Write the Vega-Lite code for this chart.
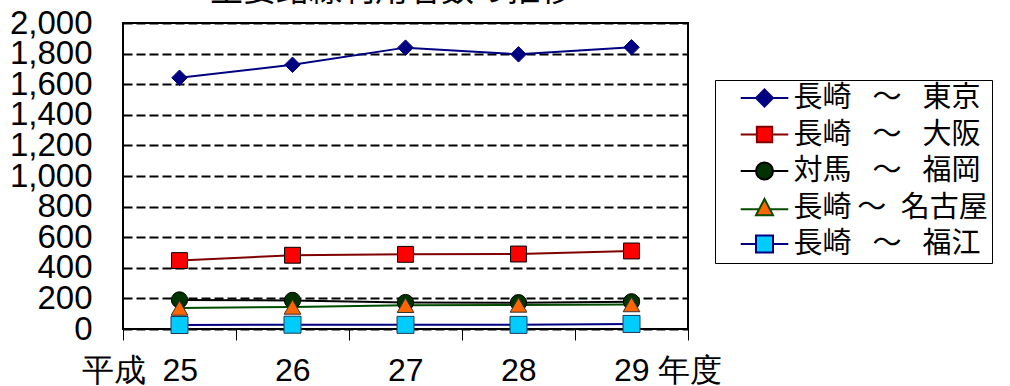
{
  "$schema": "https://vega.github.io/schema/vega-lite/v6.json",
  "width": 565,
  "height": 306,
  "autosize": {"type": "none"},
  "padding": {"left": 123, "top": 23, "right": 322, "bottom": 57},
  "background": "white",
  "data": {"values": [
    {"year": "25", "series": "長崎\u2002 ～\u2002 東京", "value": 1642},
    {"year": "26", "series": "長崎\u2002 ～\u2002 東京", "value": 1727},
    {"year": "27", "series": "長崎\u2002 ～\u2002 東京", "value": 1839},
    {"year": "28", "series": "長崎\u2002 ～\u2002 東京", "value": 1795},
    {"year": "29", "series": "長崎\u2002 ～\u2002 東京", "value": 1841},
    {"year": "25", "series": "長崎\u2002 ～\u2002 大阪", "value": 447},
    {"year": "26", "series": "長崎\u2002 ～\u2002 大阪", "value": 482},
    {"year": "27", "series": "長崎\u2002 ～\u2002 大阪", "value": 488},
    {"year": "28", "series": "長崎\u2002 ～\u2002 大阪", "value": 490},
    {"year": "29", "series": "長崎\u2002 ～\u2002 大阪", "value": 510},
    {"year": "25", "series": "対馬\u2002 ～\u2002 福岡", "value": 190},
    {"year": "26", "series": "対馬\u2002 ～\u2002 福岡", "value": 187},
    {"year": "27", "series": "対馬\u2002 ～\u2002 福岡", "value": 173},
    {"year": "28", "series": "対馬\u2002 ～\u2002 福岡", "value": 172},
    {"year": "29", "series": "対馬\u2002 ～\u2002 福岡", "value": 178},
    {"year": "25", "series": "長崎\u2009～\u2002名古屋", "value": 137},
    {"year": "26", "series": "長崎\u2009～\u2002名古屋", "value": 144},
    {"year": "27", "series": "長崎\u2009～\u2002名古屋", "value": 155},
    {"year": "28", "series": "長崎\u2009～\u2002名古屋", "value": 157},
    {"year": "29", "series": "長崎\u2009～\u2002名古屋", "value": 160},
    {"year": "25", "series": "長崎\u2002 ～\u2002 福江", "value": 26},
    {"year": "26", "series": "長崎\u2002 ～\u2002 福江", "value": 28},
    {"year": "27", "series": "長崎\u2002 ～\u2002 福江", "value": 27},
    {"year": "28", "series": "長崎\u2002 ～\u2002 福江", "value": 27},
    {"year": "29", "series": "長崎\u2002 ～\u2002 福江", "value": 33}
  ]},
  "encoding": {
    "x": {
      "field": "year", "type": "ordinal", "sort": ["25", "26", "27", "28", "29"],
      "scale": {"type": "band", "paddingInner": 0, "paddingOuter": 0},
      "axis": {
        "title": null, "domain": false, "grid": false, "ticks": true, "tickBand": "extent",
        "tickSize": 11, "tickColor": "black", "tickWidth": 1,
        "labelAngle": 0, "labelFont": "Liberation Sans", "labelFontSize": 32, "labelColor": "black",
        "labelPadding": 15, "labelBaseline": "top", "labelOverlap": false,
        "labelExpr": "datum.value == '25' ? '平成\u200225' : datum.value == '29' ? '29 年度' : datum.label",
        "labelAlign": {"condition": {"test": "datum.value == '25'", "value": "right"}, "value": "left"},
        "labelOffset": {"condition": {"test": "datum.value == '25'", "value": 18}, "value": -18}
      }
    },
    "y": {
      "field": "value", "type": "quantitative",
      "scale": {"domain": [0, 2000], "nice": false},
      "axis": {
        "title": null, "domain": false, "ticks": false,
        "values": [0, 200, 400, 600, 800, 1000, 1200, 1400, 1600, 1800, 2000],
        "format": ",d", "labelFont": "Liberation Sans", "labelFontSize": 33, "labelColor": "black",
        "labelPadding": 31, "labelBaseline": "middle", "labelOverlap": false, "labelBound": false, "labelFlush": false,
        "grid": true, "gridColor": "black", "gridDash": [9, 4], "gridWidth": 2, "gridOpacity": 1
      }
    }
  },
  "layer": [
    {
      "mark": {"type": "line", "strokeWidth": 2},
      "encoding": {
        "stroke": {"field": "series", "type": "nominal",
          "scale": {"domain": ["長崎\u2002 ～\u2002 東京", "長崎\u2002 ～\u2002 大阪", "対馬\u2002 ～\u2002 福岡", "長崎\u2009～\u2002名古屋", "長崎\u2002 ～\u2002 福江"],
                    "range": ["#000080", "#800000", "#000000", "#004d00", "#000080"]},
          "legend": null}
      }
    },
    {
      "mark": {"type": "point", "filled": true, "opacity": 1, "strokeWidth": 1},
      "encoding": {
        "x": {"field": "year", "type": "ordinal", "sort": ["25", "26", "27", "28", "29"], "axis": null},
        "shape": {"field": "series", "type": "nominal",
          "scale": {"domain": ["長崎\u2002 ～\u2002 東京", "長崎\u2002 ～\u2002 大阪", "対馬\u2002 ～\u2002 福岡", "長崎\u2009～\u2002名古屋", "長崎\u2002 ～\u2002 福江"],
                    "range": ["diamond", "square", "circle", "triangle-up", "square"]},
          "legend": null},
        "fill": {"field": "series", "type": "nominal",
          "scale": {"domain": ["長崎\u2002 ～\u2002 東京", "長崎\u2002 ～\u2002 大阪", "対馬\u2002 ～\u2002 福岡", "長崎\u2009～\u2002名古屋", "長崎\u2002 ～\u2002 福江"],
                    "range": ["#000080", "#FF0000", "#003300", "#FF6600", "#00CCFF"]},
          "legend": null},
        "stroke": {"field": "series", "type": "nominal",
          "scale": {"domain": ["長崎\u2002 ～\u2002 東京", "長崎\u2002 ～\u2002 大阪", "対馬\u2002 ～\u2002 福岡", "長崎\u2009～\u2002名古屋", "長崎\u2002 ～\u2002 福江"],
                    "range": ["#000080", "#000000", "#000000", "#333333", "#1a3a5a"]},
          "legend": null},
        "size": {"field": "series", "type": "ordinal",
          "scale": {"domain": ["長崎\u2002 ～\u2002 東京", "長崎\u2002 ～\u2002 大阪", "対馬\u2002 ～\u2002 福岡", "長崎\u2009～\u2002名古屋", "長崎\u2002 ～\u2002 福江"],
                    "range": [240, 289, 289, 256, 361]},
          "legend": null}
      }
    },
    {
      "transform": [{"filter": "datum.value < 0"}],
      "mark": {"type": "point", "filled": true, "opacity": 1, "strokeWidth": 2, "size": 289},
      "encoding": {
        "x": {"field": "year", "type": "ordinal", "sort": ["25", "26", "27", "28", "29"],
          "axis": {"orient": "top", "labels": false, "ticks": false, "domain": false, "grid": false,
                   "title": "主要路線利用者数の推移", "titleFont": "Noto Sans CJK JP", "titleFontSize": 33,
                   "titleFontWeight": "normal", "titleColor": "black", "titleBaseline": "alphabetic",
                   "titleAlign": "center", "titleX": 268, "titleY": -22.5}},
        "shape": {"field": "series", "type": "nominal",
          "scale": {"domain": ["長崎\u2002 ～\u2002 東京", "長崎\u2002 ～\u2002 大阪", "対馬\u2002 ～\u2002 福岡", "長崎\u2009～\u2002名古屋", "長崎\u2002 ～\u2002 福江"],
                    "range": [
                      "M-2.8,0H-1M1,0H2.8M0,-1L1,0L0,1L-1,0Z",
                      "M-2.8,0H-0.9M0.9,0H2.8M-0.9,-0.9H0.9V0.9H-0.9Z",
                      "M-2.8,0H-1M1,0H2.8M-1,0A1,1,0,1,1,1,0A1,1,0,1,1,-1,0Z",
                      "M-2.8,0.2H-0.6M0.6,0.2H2.8M0,-1L1,0.9H-1Z",
                      "M-2.8,0H-1M1,0H2.8M-1,-1H1V1H-1Z"
                    ]},
          "legend": {"title": null, "orient": "none", "legendX": 592, "legendY": 57}},
        "fill": {"field": "series", "type": "nominal",
          "scale": {"domain": ["長崎\u2002 ～\u2002 東京", "長崎\u2002 ～\u2002 大阪", "対馬\u2002 ～\u2002 福岡", "長崎\u2009～\u2002名古屋", "長崎\u2002 ～\u2002 福江"],
                    "range": ["#000080", "#FF0000", "#003300", "#FF6600", "#00CCFF"]},
          "legend": {"title": null, "orient": "none", "legendX": 592, "legendY": 57}},
        "stroke": {"field": "series", "type": "nominal",
          "scale": {"domain": ["長崎\u2002 ～\u2002 東京", "長崎\u2002 ～\u2002 大阪", "対馬\u2002 ～\u2002 福岡", "長崎\u2009～\u2002名古屋", "長崎\u2002 ～\u2002 福江"],
                    "range": ["#000080", "#800000", "#000000", "#004d00", "#000080"]},
          "legend": {"title": null, "orient": "none", "legendX": 592, "legendY": 57}}
      }
    }
  ],
  "resolve": {
    "scale": {"stroke": "independent", "fill": "independent", "shape": "independent", "size": "independent"},
    "axis": {"x": "independent"}
  },
  "config": {
    "view": {"stroke": "black", "strokeWidth": 2},
    "legend": {
      "padding": 3.5, "rowPadding": 6.5, "symbolOffset": 31.5, "labelOffset": 14.5,
      "labelFont": "Noto Sans CJK JP", "labelFontSize": 29, "labelColor": "black", "labelLimit": 400,
      "strokeColor": "black", "strokeWidth": 1, "symbolStrokeWidth": 2, "symbolSize": 289, "symbolOpacity": 1
    }
  }
}
